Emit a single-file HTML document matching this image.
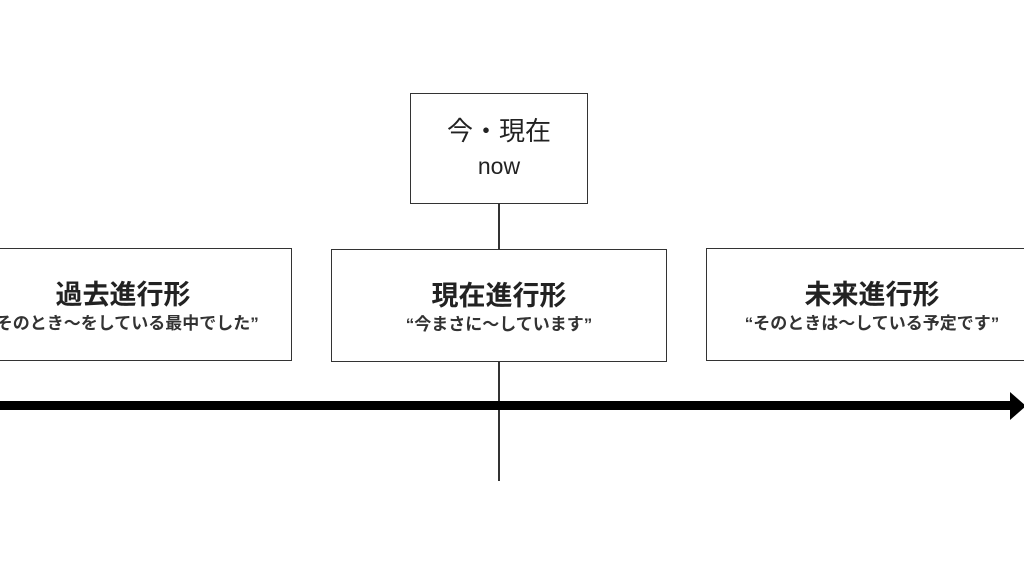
<!DOCTYPE html>
<html><head><meta charset="utf-8"><style>
body{margin:0;width:1024px;height:576px;background:#fff;position:relative;overflow:hidden;font-family:"Liberation Sans","Noto Sans CJK JP",sans-serif;color:#222}
.b{position:absolute;border:1.5px solid #333;box-sizing:border-box;background:#fff;text-align:center}
.t{position:absolute;left:0;right:0;top:30px;font-size:27px;font-weight:bold;line-height:32px;white-space:nowrap}
.s{position:absolute;left:-60px;right:-60px;top:65px;font-size:17px;font-weight:bold;line-height:20px;color:#333;white-space:nowrap}
.v{position:absolute;left:498px;width:1.5px;background:#333}
</style></head><body>
<div class="v" style="top:203px;height:47px"></div>
<div class="v" style="top:360px;height:121px"></div>
<div style="position:absolute;left:0;top:401px;width:1012px;height:9px;background:#000"></div>
<svg style="position:absolute;left:1000px;top:392px" width="26" height="28"><polygon points="10,0 26,14 10,28" fill="#000"/></svg>
<div class="b" style="left:410px;top:93px;width:178px;height:111px;font-size:26px;line-height:34px;padding-top:20px">今・現在<br><span style="font-size:23px">now</span></div>
<div class="b" style="left:-46px;top:248px;width:338px;height:113px"><div class="t">過去進行形</div><div class="s">“そのとき～をしている最中でした”</div></div>
<div class="b" style="left:331px;top:249px;width:336px;height:113px"><div class="t">現在進行形</div><div class="s">“今まさに～しています”</div></div>
<div class="b" style="left:706px;top:248px;width:332px;height:113px"><div class="t">未来進行形</div><div class="s">“そのときは～している予定です”</div></div>
</body></html>
